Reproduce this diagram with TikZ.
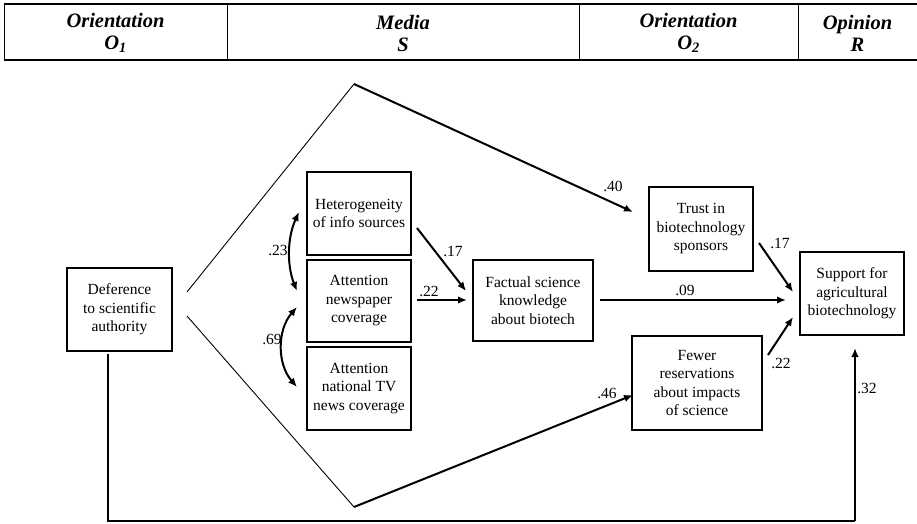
\documentclass[tikz,border=0pt]{standalone}
\usepackage{fontspec}
\setmainfont{Liberation Serif}
\usetikzlibrary{arrows.meta}

\begin{document}
\begin{tikzpicture}[x=1bp,y=-1bp,
	box/.style={draw,line width=1.1bp,inner sep=0pt,align=center,
		font=\fontsize{15.5bp}{18.5bp}\selectfont},
	hdr/.style={align=center,font=\fontsize{20.5bp}{22bp}\selectfont\bfseries\itshape},
	coef/.style={inner sep=0pt,font=\fontsize{15.5bp}{18bp}\selectfont},
	thinline/.style={line width=0.9bp},
	arrline/.style={line width=2bp,-{Latex[length=9bp,width=7.5bp]}},
	dblarr/.style={line width=2bp,{Latex[length=9bp,width=7.5bp]}-{Latex[length=9bp,width=7.5bp]}}]

	\useasboundingbox (0,0) rectangle (917,524);

	% Kopfzeile
	\draw[line width=1.6bp] (4,4) -- (917,4) (4,60) -- (917,60);
	\draw[line width=0.9bp] (4,4) -- (4,60) (227,4) -- (227,60)
		(579,4) -- (579,60) (798,4) -- (798,60);
	\node[hdr] (hO1) at (115.5,33) {Orientation\\O\textsubscript{1}};
	\node[hdr] (hS)  at (403,33)   {Media\\S};
	\node[hdr] (hO2) at (688.5,33) {Orientation\\O\textsubscript{2}};
	\node[hdr] (hR)  at (857.5,33) {Opinion\\R};

	% Kaesten
	\node[box,minimum width=105bp,minimum height=83bp] (defer) at (119.5,309.5)
		{Deference\\to scientific\\authority};
	\node[box,minimum width=104bp,minimum height=83bp] (hetero) at (359,213.5)
		{Heterogeneity\\of info sources};
	\node[box,minimum width=104bp,minimum height=82bp] (news) at (359,301)
		{Attention\\newspaper\\coverage};
	\node[box,minimum width=104bp,minimum height=83bp] (tv) at (359,388.5)
		{Attention\\national TV\\news coverage};
	\node[box,minimum width=120bp,minimum height=81bp] (fact) at (533,300.5)
		{Factual science\\knowledge\\about biotech};
	\node[box,minimum width=104bp,minimum height=84bp] (trust) at (701,229)
		{Trust in\\biotechnology\\sponsors};
	\node[box,minimum width=130bp,minimum height=94bp] (fewer) at (697,383)
		{Fewer\\reservations\\about impacts\\of science};
	\node[box,minimum width=104bp,minimum height=83bp] (support) at (852,293.5)
		{Support for\\agricultural\\biotechnology};

	% Knickpunkte der langen Pfade
	\coordinate (topS)  at (187,292);
	\coordinate (apexT) at (354,84);
	\coordinate (tipT)  at (633,212);
	\coordinate (botS)  at (187,316);
	\coordinate (apexB) at (354,507);
	\coordinate (tipB)  at (633,395);
	\coordinate (dfBot) at (108,354);
	\coordinate (cornL) at (108,521);
	\coordinate (cornR) at (855,521);
	\coordinate (tipR)  at (855,348);

	% Enden der kurzen Pfeile
	\coordinate (h17) at (417,228);
	\coordinate (f17) at (466,291);
	\coordinate (n22) at (417,300);
	\coordinate (f22) at (467,300);
	\coordinate (f09) at (600,300);
	\coordinate (s09) at (786,300);
	\coordinate (t17) at (759,243);
	\coordinate (s17) at (793,292);
	\coordinate (r22) at (768,355);
	\coordinate (s22) at (793,317);

	% Korrelationen
	\coordinate (c23a) at (299,212);
	\coordinate (c23b) at (297,291);
	\coordinate (c69a) at (297,307);
	\coordinate (c69b) at (297,387);
	\draw[dblarr] (c23a) .. controls (287,238) and (287,266) .. (c23b);
	\draw[dblarr] (c69a) .. controls (277,330) and (277,364) .. (c69b);

	% Pfade
	\draw[thinline] (topS) -- (apexT);
	\draw[arrline] (apexT) -- (tipT);
	\draw[thinline] (botS) -- (apexB);
	\draw[arrline] (apexB) -- (tipB);
	\draw[line width=1.1bp] (dfBot) -- (cornL) -- (cornR);
	\draw[arrline] (cornR) -- (tipR);
	\draw[arrline] (h17) -- (f17);
	\draw[arrline] (n22) -- (f22);
	\draw[arrline] (f09) -- (s09);
	\draw[arrline] (t17) -- (s17);
	\draw[arrline] (r22) -- (s22);

	% Koeffizienten
	\node[coef] (l23)  at (278,250) {.23};
	\node[coef] (l69)  at (272,339) {.69};
	\node[coef] (l17a) at (453,251) {.17};
	\node[coef] (l22a) at (429,291) {.22};
	\node[coef] (l40)  at (613,186) {.40};
	\node[coef] (l09)  at (685,290) {.09};
	\node[coef] (l17b) at (780,243) {.17};
	\node[coef] (l22b) at (781,363) {.22};
	\node[coef] (l46)  at (607,393) {.46};
	\node[coef] (l32)  at (867,388) {.32};

\end{tikzpicture}
\end{document}
